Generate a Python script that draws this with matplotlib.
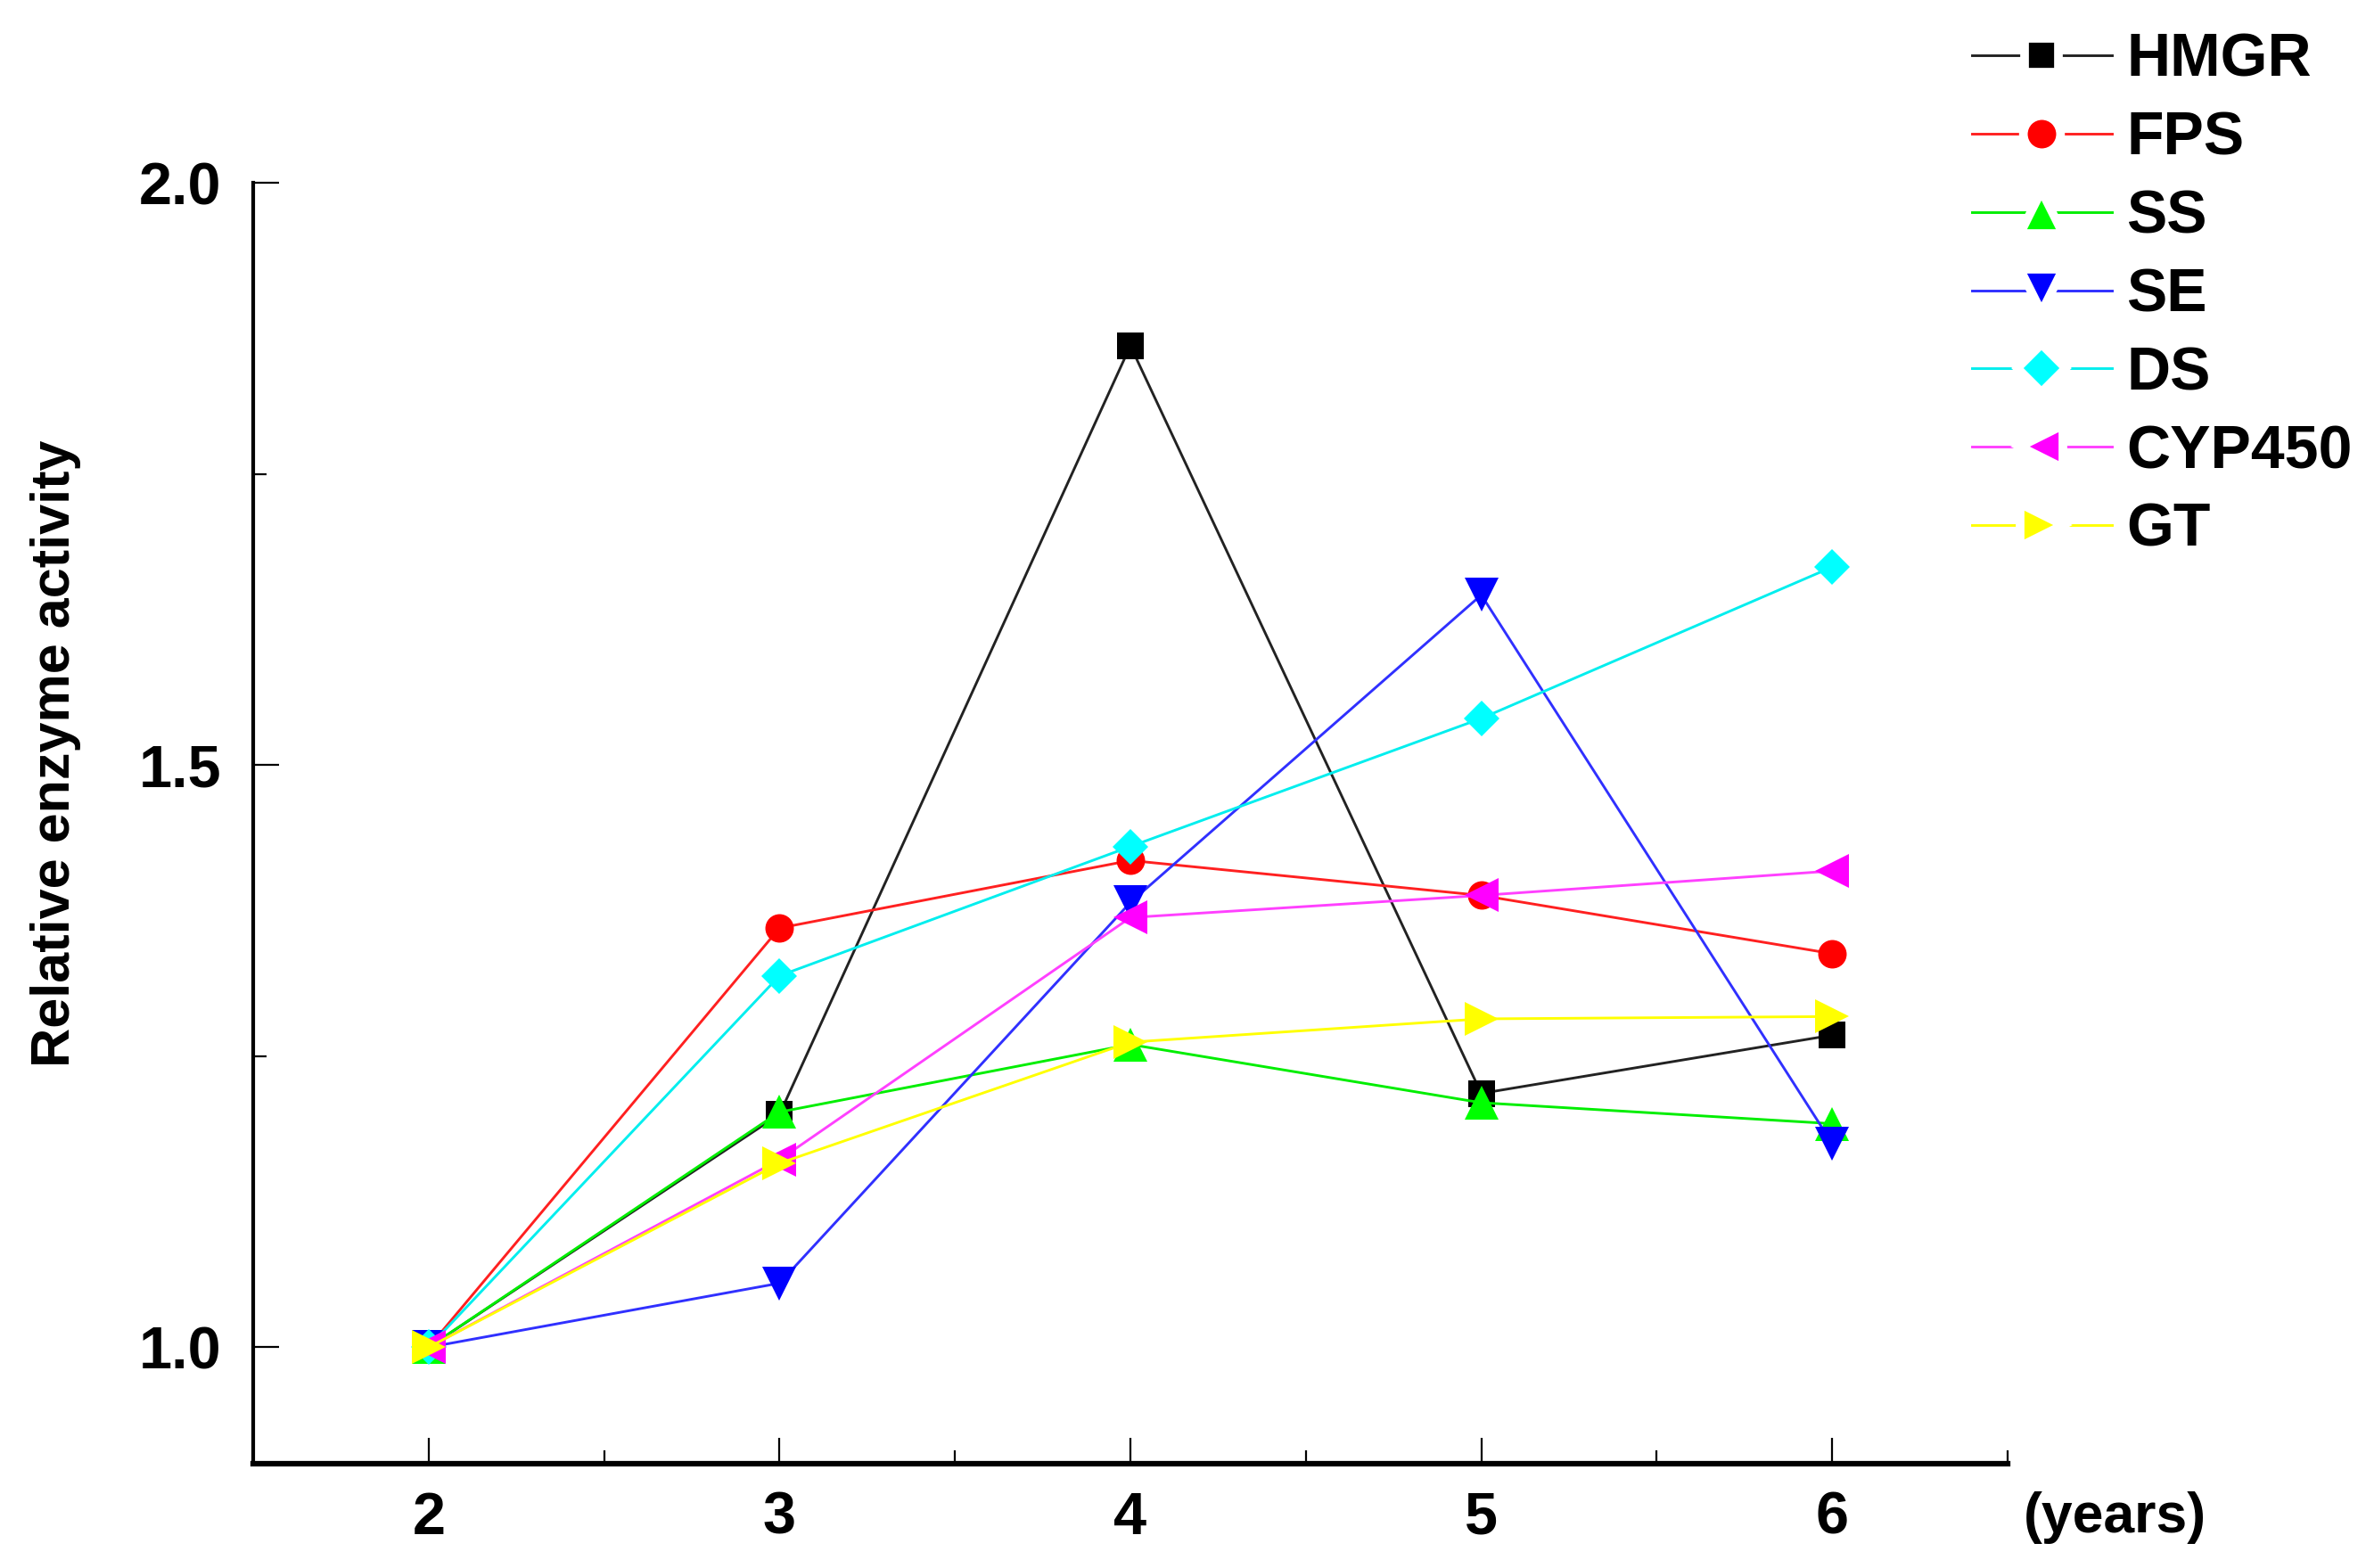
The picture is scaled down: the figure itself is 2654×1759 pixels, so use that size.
import matplotlib.pyplot as plt
from matplotlib.lines import Line2D
from matplotlib.ticker import MultipleLocator

years = [2, 3, 4, 5, 6]
enzymes = ["HMGR", "FPS", "SS", "SE", "DS", "CYP450", "GT"]

hmgr = [1.0, 1.200, 1.860, 1.218, 1.268]
fps = [1.0, 1.360, 1.418, 1.388, 1.338]
ss = [1.0, 1.202, 1.260, 1.210, 1.192]
se = [1.0, 1.055, 1.382, 1.646, 1.175]
ds = [1.0, 1.319, 1.430, 1.540, 1.670]
cyp450 = [1.0, 1.161, 1.369, 1.388, 1.409]
gt = [1.0, 1.158, 1.262, 1.282, 1.284]

values = [hmgr, fps, ss, se, ds, cyp450, gt]
line_colors = ["#222222", "#ff2020", "#00ee00", "#3030ff", "#00eeee", "#ff40ff", "#ffff00"]
marker_colors = ["#000000", "#ff0000", "#00ff00", "#0000ff", "#00ffff", "#ff00ff", "#ffff00"]
markers = ["s", "o", "^", "v", "D", "<", ">"]
msizes = [21, 23, 27, 27, 20, 27, 27]

plt.rcParams["font.family"] = ["Liberation Sans", "DejaVu Sans"]
plt.rcParams["font.weight"] = "bold"

W, H = 2654, 1759
fig = plt.figure(figsize=(W / 100, H / 100), dpi=100)
ax = fig.add_axes([284 / W, 1 - 1642 / H, (2252 - 284) / W, (1642 - 205) / H])

gap = 7  # white marker edge in the legend -> gap between line and marker
handles = []
for name, vals, lc, mc, mk, ms in zip(enzymes, values, line_colors, marker_colors, markers, msizes):
    ax.plot(years, vals, color=lc, lw=2.1, marker=mk, markersize=ms,
            markerfacecolor=mc, markeredgecolor=mc, markeredgewidth=0, label=name)
    handles.append(Line2D([], [], color=lc, lw=2.1, marker=mk, markersize=ms + gap,
                          markerfacecolor=mc, markeredgecolor="white",
                          markeredgewidth=gap, label=name))

ax.set_xlim(1.5, 6.5)
ax.set_ylim(0.9, 2.0)
ax.xaxis.set_minor_locator(MultipleLocator(0.5))
ax.yaxis.set_minor_locator(MultipleLocator(0.25))
ax.set_xticks(years)
ax.set_yticks([1.0, 1.5, 2.0])
ax.set_yticklabels(["1.0", "1.5", "2.0"])

for s in ["top", "right"]:
    ax.spines[s].set_visible(False)
ax.spines["left"].set_linewidth(3)
ax.spines["bottom"].set_linewidth(4.5)

ax.tick_params(which="both", direction="in", width=1.6, labelsize=48)
ax.tick_params(which="major", length=21)
ax.tick_params(which="minor", length=11)
ax.tick_params(axis="y", which="both", pad=26)
ax.tick_params(axis="x", which="both", pad=22)
for lab in ax.get_xticklabels() + ax.get_yticklabels():
    lab.set_fontweight("bold")

fig.text(63 / W, 1 - 845 / H, "Relative enzyme activity", rotation=90,
         ha="center", va="center", fontsize=44, fontweight="bold")
fig.text(2270 / W, 1 - 1702 / H, "(years)", ha="left", va="center",
         fontsize=45, fontweight="bold")

fig.legend(handles=handles, loc="upper left", bbox_to_anchor=(2212 / W, 1 - 36 / H),
           frameon=False, borderpad=0, borderaxespad=0, handlelength=2.3,
           handletextpad=0.25, labelspacing=0.35, prop={"size": 49, "weight": "bold"})

fig.savefig("out.png", dpi=100)
